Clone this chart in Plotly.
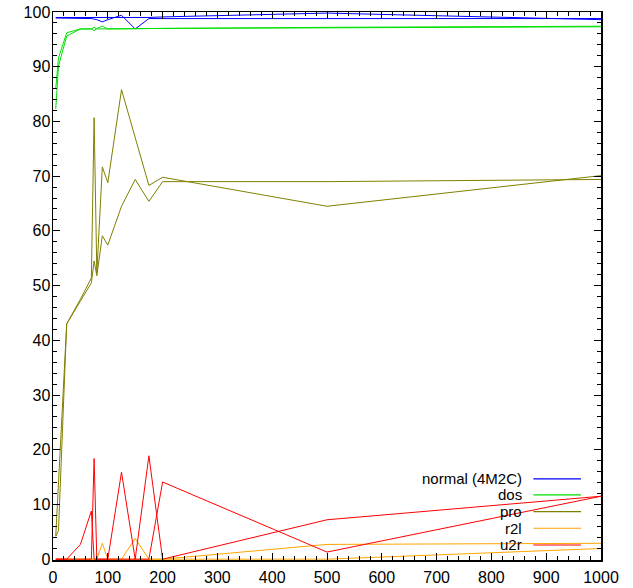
import plotly.graph_objects as go

# x positions shared by all runs
X = [5, 10, 25, 50, 70, 75, 80, 90, 100, 125, 150, 175, 200, 500, 1000]

# each class has two runs drawn in the same colour
normal_a = [98.9, 98.9, 98.9, 98.8, 98.8, 98.7, 98.6, 98.2, 98.6, 99.4, 96.9, 98.8, 98.8, 98.8, 98.8]
normal_b = [99.0, 99.0, 98.9, 98.9, 98.9, 98.9, 98.9, 98.9, 98.9, 98.9, 99.0, 99.0, 99.1, 99.8, 98.6]
dos_a = [82.3, 90.1, 95.6, 96.9, 96.9, 96.6, 97.0, 97.4, 96.9, 96.9, 96.9, 97.0, 97.0, 97.1, 97.3]
dos_b = [86.0, 91.6, 96.2, 96.9, 96.9, 97.2, 96.9, 96.9, 96.9, 96.9, 97.0, 97.0, 97.0, 97.2, 97.4]
pro_a = [4.2, 14.0, 43.0, 47.5, 51.4, 80.7, 52.3, 71.7, 68.8, 85.8, 77.0, 68.3, 69.8, 64.5, 70.1]
pro_b = [4.2, 5.2, 43.0, 47.3, 50.5, 54.5, 51.8, 59.1, 57.4, 64.5, 69.4, 65.4, 69.0, 69.0, 69.4]
r2l_a = [0, 0, 0, 0, 0, 0, 0, 2.9, 0, 0, 0, 0, 0, 2.7, 2.9]
r2l_b = [0, 0, 0, 0, 0, 0, 0, 0, 0, 0, 3.8, 0, 0, 0, 1.95]
u2r_a = [0, 0, 0, 2.7, 8.8, 0, 0, 0, 0, 15.9, 0, 18.9, 0, 7.2, 11.5]
u2r_b = [0, 0, 0, 0, 0, 18.4, 0, 0, 0, 0, 0, 0, 14.1, 1.3, 11.5]

names = ["normal (4M2C)", "dos", "pro", "r2l", "u2r"]
colors = ["#0000ff", "#00e000", "#808000", "#ffa500", "#ff0000"]
runs = [(normal_a, normal_b), (dos_a, dos_b), (pro_a, pro_b), (r2l_a, r2l_b), (u2r_a, u2r_b)]

fig = go.Figure()
for name, col, (ya, yb) in zip(names, colors, runs):
    for y in (ya, yb):
        fig.add_trace(go.Scatter(x=X, y=y, mode="lines", name=name,
                                 line=dict(color=col, width=1), showlegend=False))

font = dict(family="Liberation Sans, Arial, sans-serif", size=16, color="black")
key_font = dict(family="Liberation Sans, Arial, sans-serif", size=15, color="black")

axis_common = dict(
    ticks="inside", ticklen=7, tickwidth=1, tickcolor="black",
    showline=True, linecolor="black", linewidth=1.5, mirror="allticks",
    showgrid=False, zeroline=False, tickfont=font, automargin=False,
    ticklabeloverflow="allow",
)
fig.update_xaxes(range=[0, 1000], tick0=0, dtick=100,
                 minor=dict(ticks="inside", ticklen=4, dtick=20, tickcolor="black", showgrid=False),
                 ticklabelstandoff=2, **axis_common)
fig.update_yaxes(range=[-0.15, 100], tick0=0, dtick=10,
                 minor=dict(ticks="inside", ticklen=4, dtick=2, tickcolor="black", showgrid=False),
                 ticklabelstandoff=-2, **axis_common)

# gnuplot-style key: text right-aligned, sample line to its right
key_rows = [0.148, 0.1187, 0.0882, 0.0579, 0.0274]
for name, col, ky in zip(names, colors, key_rows):
    fig.add_annotation(x=0.857, y=ky, xref="paper", yref="paper", text=name,
                       showarrow=False, xanchor="right", yanchor="middle", font=key_font,
                       borderpad=0)
    fig.add_shape(type="line", xref="paper", yref="paper", x0=0.8766, x1=0.9635,
                  y0=ky, y1=ky, line=dict(color=col, width=1.2))

fig.update_layout(width=633, height=588, margin=dict(l=53, r=32, t=12, b=28),
                  paper_bgcolor="white", plot_bgcolor="white", showlegend=False,
                  hovermode=False)

# remove the default page margin so the figure fills the window exactly
fig.write_html("out.html", config={"displayModeBar": False, "staticPlot": True},
               post_script="document.body.style.margin='0';")
